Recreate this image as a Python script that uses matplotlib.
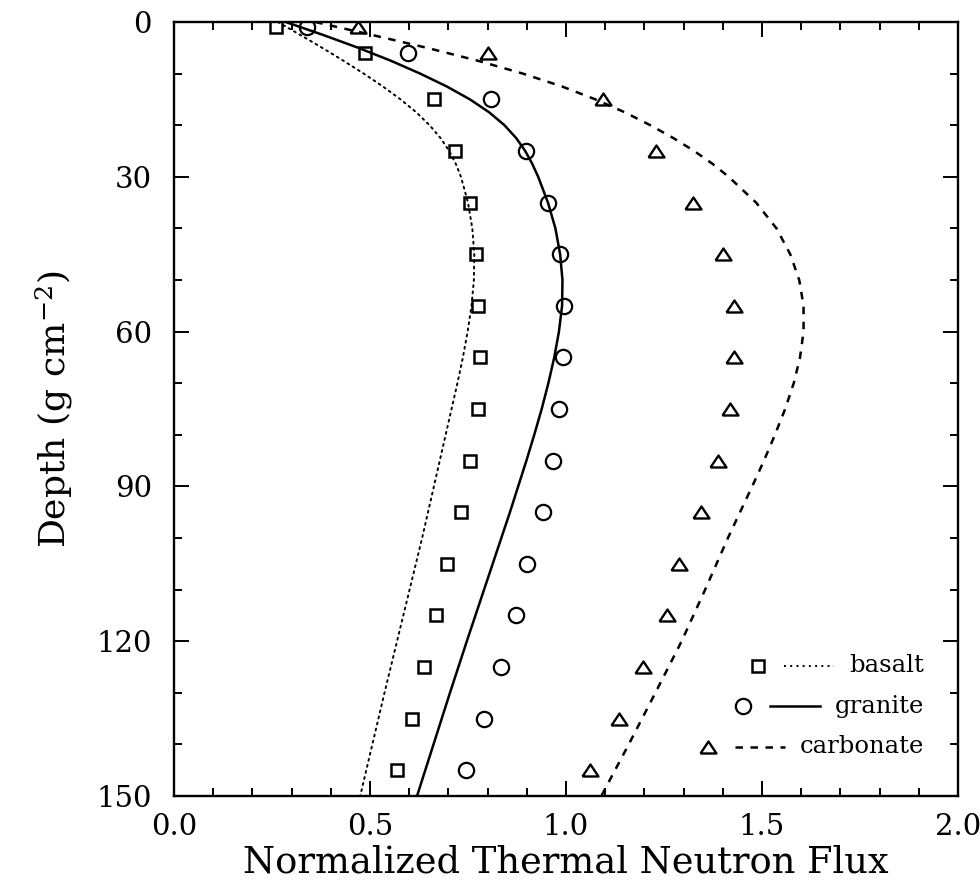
import matplotlib
matplotlib.use("Agg")
import matplotlib.pyplot as plt
from matplotlib.lines import Line2D
from matplotlib.ticker import MultipleLocator, FormatStrFormatter
from matplotlib.offsetbox import DrawingArea, TextArea, HPacker, VPacker, AnchoredOffsetbox

plt.rcParams['font.family'] = ['DejaVu Serif']
plt.rcParams['mathtext.fontset'] = 'dejavuserif'

# ---------------- data ----------------
series_labels = ['basalt', 'granite', 'carbonate']

marker_depth = [1, 6, 15, 25, 35, 45, 55, 65, 75, 85, 95, 105, 115, 125, 135, 145]
basalt_flux = [0.26, 0.486, 0.662, 0.717, 0.754, 0.77, 0.776, 0.78, 0.776, 0.756,
               0.732, 0.697, 0.668, 0.638, 0.606, 0.569]
granite_flux = [0.34, 0.598, 0.808, 0.898, 0.953, 0.985, 0.996, 0.992, 0.982, 0.966,
                0.941, 0.90, 0.872, 0.833, 0.792, 0.745]
carbonate_flux = [0.47, 0.80, 1.094, 1.23, 1.325, 1.40, 1.429, 1.428, 1.418, 1.389,
                  1.344, 1.289, 1.257, 1.197, 1.136, 1.061]

curve_depth = [0, 2.5, 5, 7.5, 10, 12.5, 15, 17.5, 20, 22.5, 25, 27.5, 30, 35, 40,
               45, 50, 55, 60, 65, 70, 75, 80, 85, 90, 95, 100, 110, 120, 130, 140, 150]
basalt_curve_flux = [0.265, 0.322, 0.378, 0.432, 0.484, 0.533, 0.578, 0.618, 0.652,
                     0.68, 0.702, 0.719, 0.732, 0.75, 0.761, 0.766, 0.765, 0.759, 0.749,
                     0.737, 0.723, 0.708, 0.693, 0.678, 0.663, 0.648, 0.633, 0.601,
                     0.569, 0.537, 0.506, 0.475]
granite_curve_flux = [0.285, 0.38, 0.47, 0.553, 0.628, 0.696, 0.755, 0.804, 0.843,
                      0.873, 0.896, 0.914, 0.929, 0.954, 0.973, 0.985, 0.991, 0.99,
                      0.982, 0.97, 0.955, 0.938, 0.919, 0.899, 0.878, 0.857, 0.835,
                      0.791, 0.747, 0.704, 0.662, 0.62]
carbonate_curve_flux = [0.36, 0.505, 0.645, 0.775, 0.89, 0.99, 1.075, 1.15, 1.215,
                        1.274, 1.327, 1.374, 1.415, 1.485, 1.537, 1.572, 1.595, 1.606,
                        1.606, 1.597, 1.581, 1.559, 1.533, 1.505, 1.475, 1.444, 1.413,
                        1.355, 1.295, 1.228, 1.16, 1.09]

x_ticks = [0.0, 0.5, 1.0, 1.5, 2.0]
y_ticks = [0, 30, 60, 90, 120, 150]

# ---------------- styles ----------------
tri = [(-1, -0.75), (1, -0.75), (0, 0.75), (-1, -0.75)]
styles = {
    'basalt': dict(marker='s', ms=8.5, mew=1.8, ls=(0, (1, 2.2)), lw=1.4),
    'granite': dict(marker='o', ms=11, mew=1.6, ls='-', lw=1.8),
    'carbonate': dict(marker=tri, ms=11.5, mew=1.7, ls=(0, (3, 3)), lw=1.8),
}

fig = plt.figure(figsize=(9.8, 8.88), dpi=100)
ax = fig.add_axes([174 / 980, 1 - 796 / 888, (958 - 174) / 980, (796 - 22) / 888])

points = [basalt_flux, granite_flux, carbonate_flux]
curves = [basalt_curve_flux, granite_curve_flux, carbonate_curve_flux]

for lab, pts, cx in zip(series_labels, points, curves):
    st = styles[lab]
    ax.plot(cx, curve_depth, color='black', linestyle=st['ls'], linewidth=st['lw'],
            dash_capstyle='round' if lab == 'basalt' else 'butt',
            solid_joinstyle='round')
    ax.plot(pts, marker_depth, linestyle='none', marker=st['marker'],
            markersize=st['ms'], markeredgewidth=st['mew'],
            markerfacecolor='none', markeredgecolor='black')

ax.set_xlim(0, 2)
ax.set_ylim(150, 0)
ax.set_xticks(x_ticks)
ax.set_yticks(y_ticks)
ax.xaxis.set_major_formatter(FormatStrFormatter('%.1f'))
ax.xaxis.set_minor_locator(MultipleLocator(0.1))
ax.yaxis.set_minor_locator(MultipleLocator(10))
ax.tick_params(which='both', direction='in', top=True, right=True, width=1.4,
               labelsize=21, colors='black')
ax.tick_params(which='major', length=10.5)
ax.tick_params(which='minor', length=5.5)
ax.tick_params(axis='x', which='major', pad=12)
ax.tick_params(axis='y', which='major', pad=16)
for sp in ax.spines.values():
    sp.set_linewidth(1.7)

ax.set_xlabel('Normalized Thermal Neutron Flux', fontsize=26.5, labelpad=3)
ax.set_ylabel(r'Depth (g cm$^{-2}$)', fontsize=26, labelpad=15)

# ---------------- legend (marker, line, label; right aligned) ----------------
rows = []
for lab in series_labels:
    st = styles[lab]
    dm = DrawingArea(16, 16, 0, 0)
    dm.add_artist(Line2D([8], [8], marker=st['marker'], markersize=st['ms'],
                         markeredgewidth=st['mew'], markerfacecolor='none',
                         markeredgecolor='black', linestyle='none'))
    dl = DrawingArea(36, 16, 0, 0)
    dl.add_artist(Line2D([0, 36], [8, 8], color='black', linestyle=st['ls'],
                         linewidth=st['lw']))
    ta = TextArea(lab, textprops=dict(fontsize=17.5, color='black'))
    rows.append(HPacker(children=[dm, dl, ta], sep=11, align='center', pad=0))
col = VPacker(children=rows, sep=12.5, align='right', pad=0)
anch = AnchoredOffsetbox(loc='lower right', child=col, frameon=False, pad=0,
                         borderpad=0, bbox_to_anchor=(0.957, 0.049),
                         bbox_transform=ax.transAxes)
ax.add_artist(anch)

fig.savefig('out.png', dpi=100)
